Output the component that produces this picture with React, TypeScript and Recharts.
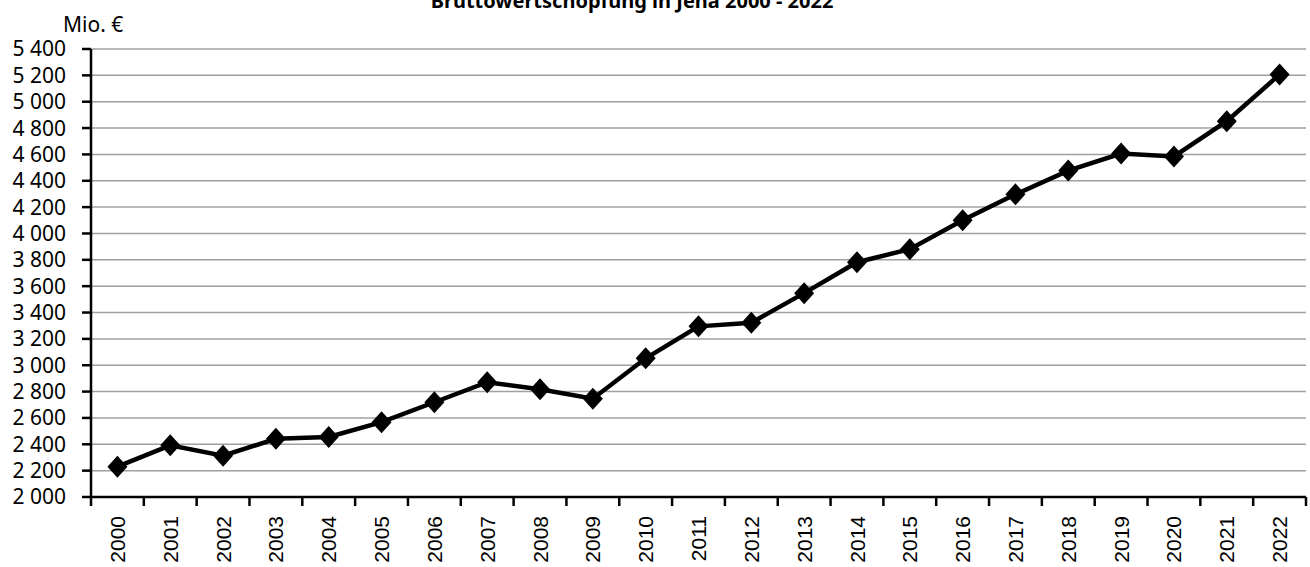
import React from "react";
import { LineChart, Line, XAxis, YAxis, CartesianGrid } from "recharts";

const years = [
  "2000", "2001", "2002", "2003", "2004", "2005", "2006", "2007", "2008", "2009", "2010", "2011",
  "2012", "2013", "2014", "2015", "2016", "2017", "2018", "2019", "2020", "2021", "2022",
];
const bws = [
  2230, 2392, 2313, 2442, 2456, 2568, 2719, 2871, 2818, 2746, 3053, 3295,
  3323, 3547, 3782, 3881, 4100, 4297, 4477, 4607, 4585, 4852, 5207,
];
const yTicks = [
  2000, 2200, 2400, 2600, 2800, 3000, 3200, 3400, 3600, 3800, 4000, 4200, 4400, 4600, 4800, 5000, 5200, 5400,
];

const data = years.map((year, i) => ({ year, value: bws[i] }));

const fmt = (v: number) => {
  const s = String(v);
  return s.slice(0, s.length - 3) + " " + s.slice(-3);
};

function Diamond(props: any) {
  const { cx, cy } = props;
  if (cx == null || cy == null) return null;
  return <path d={`M${cx},${cy - 11}L${cx + 10},${cy}L${cx},${cy + 11}L${cx - 10},${cy}Z`} fill="#000" />;
}

const plotWidth = 1310 - 91 - 4;

function YearTick(props: any) {
  const { x, y, payload, index, visibleTicksCount } = props;
  const half = plotWidth / visibleTicksCount / 2;
  const last = index === visibleTicksCount - 1;
  return (
    <g>
      <line x1={x - half} x2={x - half} y1={y} y2={y + 9} stroke="#000" strokeWidth={2.5} />
      {last && <line x1={x + half} x2={x + half} y1={y} y2={y + 9} stroke="#000" strokeWidth={2.5} />}
      <text
        transform={`translate(${x},${y + 19}) rotate(-90)`}
        textAnchor="end"
        dy="0.36em"
        fontFamily="'Liberation Sans', Arial, sans-serif"
        fontSize={21}
        fill="#000"
      >
        {payload.value}
      </text>
    </g>
  );
}

export default function App() {
  return (
    <div style={{ position: "absolute", left: 0, top: 0, width: 1310, height: 567, background: "#fff" }}>
      <LineChart width={1310} height={567} data={data} margin={{ top: 49, right: 4, bottom: 0, left: 0 }}>
        <CartesianGrid vertical={false} stroke="#a0a0a0" strokeWidth={1.5} />
        <XAxis
          dataKey="year"
          scale="band"
          height={70}
          interval={0}
          tickSize={0}
          tickMargin={0}
          tickLine={false}
          axisLine={{ stroke: "#000", strokeWidth: 2.5 }}
          tick={<YearTick />}
        />
        <YAxis
          width={91}
          domain={[2000, 5400]}
          ticks={yTicks}
          interval={0}
          tickFormatter={fmt}
          tickSize={9}
          tickMargin={16}
          axisLine={{ stroke: "#000", strokeWidth: 2.5 }}
          tickLine={{ stroke: "#000", strokeWidth: 2.5 }}
          tick={{ fontFamily: "'Noto Sans', sans-serif", fontSize: 21, fill: "#000" }}
        />
        <Line
          dataKey="value"
          stroke="#000"
          strokeWidth={4.5}
          dot={<Diamond />}
          activeDot={false}
          isAnimationActive={false}
        />
      </LineChart>
      <svg width={1310} height={60} style={{ position: "absolute", left: 0, top: 0, pointerEvents: "none" }}>
        <text x={632} y={7.5} textAnchor="middle" fontFamily="'Noto Sans', sans-serif" fontWeight="bold" fontSize={20} fill="#000">
          Bruttowertschöpfung in Jena 2000 - 2022
        </text>
        <text x={63} y={32} fontFamily="'Noto Sans', sans-serif" fontSize={21} fill="#000">
          Mio. €
        </text>
      </svg>
    </div>
  );
}
